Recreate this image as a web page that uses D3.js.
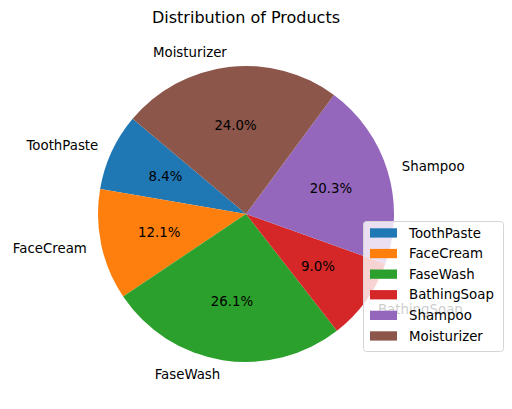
<!DOCTYPE html>
<html><head><meta charset="utf-8">
<script src="https://cdn.jsdelivr.net/npm/d3@7"></script>
<style>body{margin:0;background:#fff}svg{display:block;font-family:"DejaVu Sans",sans-serif}</style>
</head><body><svg id="c" width="512" height="409"></svg>
<script>
const categories = ["ToothPaste","FaceCream","FaseWash","BathingSoap","Shampoo","Moisturizer"];
const values = [8.4,12.1,26.1,9.0,20.3,24.0];
const colors = ["#1f77b4","#ff7f0e","#2ca02c","#d62728","#9467bd","#8c564b"];
const title = "Distribution of Products";

const svg = d3.select("#c");
const cx = 246, cy = 214, R = 148;
const startDeg = 140; // matplotlib startangle
const toD3 = deg => (90 - deg) * Math.PI / 180;

const pie = d3.pie().sort(null).value(d => d.v)
  .startAngle(toD3(startDeg)).endAngle(toD3(startDeg + 360));
const data = categories.map((c, i) => ({c, v: values[i], col: colors[i]}));
const arcs = pie(data);
const total = d3.sum(values);
const arc = d3.arc().innerRadius(0).outerRadius(R);

const g = svg.append("g").attr("transform", `translate(${cx},${cy})`);
g.selectAll("path.w").data(arcs).join("path")
  .attr("d", arc).attr("fill", d => d.data.col);

const mid = d => (d.startAngle + d.endAngle) / 2;
// outer labels
g.selectAll("text.l").data(arcs).join("text")
  .attr("x", d => 1.1 * R * Math.sin(mid(d)))
  .attr("y", d => -1.1 * R * Math.cos(mid(d)))
  .attr("text-anchor", d => Math.sin(mid(d)) < 0 ? "end" : "start")
  .attr("dominant-baseline", "central")
  .attr("font-size", 13.33).attr("fill", "#000")
  .text(d => d.data.c);
// pct labels
g.selectAll("text.p").data(arcs).join("text")
  .attr("x", d => 0.6 * R * Math.sin(mid(d)))
  .attr("y", d => -0.6 * R * Math.cos(mid(d)))
  .attr("text-anchor", "middle")
  .attr("dominant-baseline", "central")
  .attr("font-size", 13.33).attr("fill", "#000")
  .text(d => (d.data.v / total * 100).toFixed(1) + "%");

svg.append("text").attr("x", 246).attr("y", 17)
  .attr("text-anchor", "middle").attr("dominant-baseline", "central")
  .attr("font-size", 16).text(title);

// legend
const lx = 363, ly = 221, lw = 140, lh = 130;
const lg = svg.append("g");
lg.append("rect").attr("x", lx + 0.5).attr("y", ly + 0.5).attr("width", lw).attr("height", lh)
  .attr("rx", 3).attr("fill", "#fff").attr("fill-opacity", 0.8)
  .attr("stroke", "#d5d5d5").attr("stroke-width", 1);
const rowY = i => 233 + i * 20.6;
lg.selectAll("rect.h").data(data).join("rect")
  .attr("x", 370).attr("y", (d, i) => rowY(i) - 4.7).attr("width", 27).attr("height", 9.3)
  .attr("fill", d => d.col);
lg.selectAll("text.t").data(data).join("text")
  .attr("x", 409).attr("y", (d, i) => rowY(i)).attr("dominant-baseline", "central")
  .attr("font-size", 13.33).text(d => d.c);
</script></body></html>
